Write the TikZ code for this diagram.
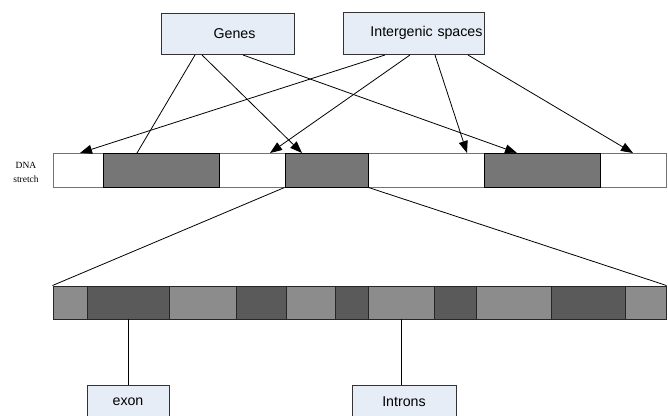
\documentclass[tikz,border=0pt]{standalone}
\usepackage{fontspec}
\setmainfont{Liberation Sans}
\newfontfamily\dnaserif{Liberation Serif}
\usetikzlibrary{arrows.meta}
\definecolor{boxfill}{HTML}{E7EDF7}
\definecolor{dnadark}{HTML}{767676}
\definecolor{exdark}{HTML}{5A5A5A}
\definecolor{exlight}{HTML}{8C8C8C}
\tikzset{
  labelbox/.style={draw=black!80, fill=boxfill, line width=0.9pt, inner sep=0pt,
     font=\fontsize{14.2}{16}\selectfont},
  segW/.style={draw=black!55, fill=white, line width=1pt, inner sep=0pt, minimum height=34pt},
  segD/.style={draw=black, fill=dnadark, line width=1pt, inner sep=0pt, minimum height=34pt},
  segL/.style={draw=black!85, fill=exlight, line width=1pt, inner sep=0pt, minimum height=33pt},
  segK/.style={draw=black!85, fill=exdark, line width=1pt, inner sep=0pt, minimum height=33pt},
  conn/.style={line width=0.8pt, black},
  arr/.style={conn, -{Triangle[length=12pt,width=9pt]}}
}
\begin{document}
\begin{tikzpicture}[x=1pt,y=-1pt]
\useasboundingbox (0,0) rectangle (668,415);
\clip (0,0) rectangle (668,415);
% top boxes
\node[labelbox, minimum width=133pt, minimum height=41pt] (genes) at (227.5,33.5) {\hspace{14pt}Genes};
\node[labelbox, minimum width=141pt, minimum height=42pt, text width=138pt, align=right] (inter) at (413.5,33) {Intergenic spaces};
% DNA stretch label
\node[font=\dnaserif\fontsize{9.5}{14}\selectfont, align=center, inner sep=0pt] (dnalbl) at (26,172) {DNA\\stretch};
% DNA bar
\foreach \n/\a/\b/\s in {d1/53/103/segW, d3/219/285/segW, d5/368/484/segW, d7/600/666/segW,
                         d2/103/219/segD, d4/285/368/segD, d6/484/600/segD}
  \node[\s, minimum width={(\b-\a)*1pt}] (\n) at ({(\a+\b)/2},170) {};
% expanded bar
\foreach \n/\a/\b/\s in {l1/53/87/segL, l3/169/236/segL, l5/286/335/segL, l7/368/434/segL, l9/476/551/segL, l11/625/666/segL,
                         l2/87/169/segK, l4/236/286/segK, l6/335/368/segK, l8/434/476/segK, l10/551/625/segK}
  \node[\s, minimum width={(\b-\a)*1pt}] (\n) at ({(\a+\b)/2},302.5) {};
% bottom boxes
\node[labelbox, minimum width=82pt, minimum height=34pt] (exon) at (128,402) {exon};
\node[labelbox, minimum width=104pt, minimum height=34pt] (introns) at (404,402) {Introns};
% coordinates for connector ends
\coordinate (gs1) at (195,55);
\coordinate (gs2) at (202,55);
\coordinate (gs3) at (243,55);
\coordinate (is1) at (385,55);
\coordinate (is2) at (410,55);
\coordinate (is3) at (435,55);
\coordinate (is4) at (468,55);
\coordinate (t1) at (137,153);
\coordinate (t2) at (302,153);
\coordinate (t3) at (517,153);
\coordinate (u1) at (80,153);
\coordinate (u2) at (270,153);
\coordinate (u3) at (467,153);
\coordinate (u4) at (633,153);
\coordinate (ex1) at (128,319);
\coordinate (ex2) at (128,385);
\coordinate (in1) at (401,319);
\coordinate (in2) at (401,385);
% connectors
\draw[conn] (gs1) -- (t1);
\draw[arr] (gs2) -- (t2);
\draw[arr] (gs3) -- (t3);
\draw[arr] (is1) -- (u1);
\draw[arr] (is2) -- (u2);
\draw[arr] (is3) -- (u3);
\draw[arr] (is4) -- (u4);
\draw[conn] (d4.south west) -- (l1.north west);
\draw[conn] (d4.south east) -- (l11.north east);
\draw[conn] (ex1) -- (ex2);
\draw[conn] (in1) -- (in2);
\end{tikzpicture}
\end{document}
